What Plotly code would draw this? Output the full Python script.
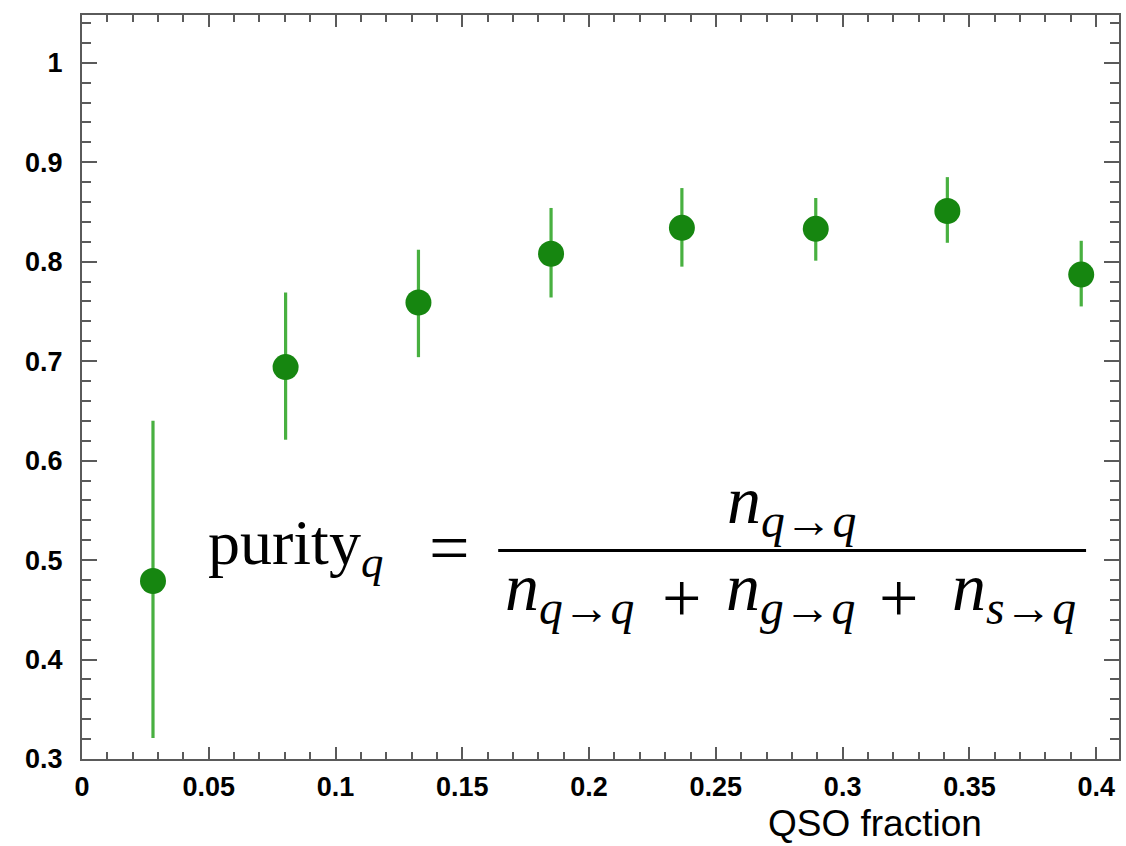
import plotly.graph_objects as go

# QSO fraction bins and measured purity with asymmetric uncertainties
qso_fraction = [0.0280, 0.0803, 0.1327, 0.1850, 0.2366, 0.2894, 0.3413, 0.3941]
purity = [0.479, 0.694, 0.759, 0.808, 0.834, 0.833, 0.851, 0.787]
err_up = [0.161, 0.075, 0.053, 0.046, 0.040, 0.031, 0.034, 0.034]
err_down = [0.158, 0.073, 0.055, 0.044, 0.039, 0.032, 0.032, 0.032]

x_ticks = [0, 0.05, 0.1, 0.15, 0.2, 0.25, 0.3, 0.35, 0.4]
x_ticktext = ["0", "0.05", "0.1", "0.15", "0.2", "0.25", "0.3", "0.35", "0.4"]
y_ticks = [0.3, 0.4, 0.5, 0.6, 0.7, 0.8, 0.9, 1.0]
y_ticktext = ["0.3", "0.4", "0.5", "0.6", "0.7", "0.8", "0.9", "1"]

W, H = 1126, 846
L, R, T, B = 82, 5, 15, 87
PW, PH = W - L - R, H - T - B


def px(x):
    return (x - L) / PW


def py(y):
    return (H - B - y) / PH


fig = go.Figure()
fig.add_trace(go.Scatter(
    x=qso_fraction, y=purity, mode="markers",
    marker=dict(size=26, color="rgb(22,134,16)", line=dict(width=0)),
    error_y=dict(type="data", symmetric=False, array=err_up, arrayminus=err_down,
                 color="rgb(72,176,64)", thickness=3.2, width=0),
    showlegend=False,
))

axis_common = dict(
    showline=True, linecolor="rgb(90,90,90)", linewidth=2, mirror="ticks",
    ticks="inside", tickcolor="rgb(90,90,90)", tickwidth=2,
    showgrid=False, zeroline=False,
    tickfont=dict(family="Liberation Sans", size=27, color="black", weight="bold"),
)

fig.update_xaxes(
    range=[0, 0.409], tickvals=x_ticks, ticktext=x_ticktext, ticklen=12,
    minor=dict(dtick=0.01, tick0=0, ticklen=7, ticks="inside",
               tickcolor="rgb(90,90,90)", tickwidth=2),
    ticklabelstandoff=3,
    **axis_common,
)
fig.update_yaxes(
    range=[0.3, 1.048], tickvals=y_ticks, ticktext=y_ticktext, ticklen=15,
    minor=dict(dtick=0.02, tick0=0.3, ticklen=9, ticks="inside",
               tickcolor="rgb(90,90,90)", tickwidth=2),
    ticklabelstandoff=12,
    **axis_common,
)

# Axis title sits in the lower-right corner, under the tick labels
fig.add_annotation(xref="paper", yref="paper", x=px(986), y=py(846),
                   xanchor="right", yanchor="bottom", showarrow=False,
                   text="QSO fraction",
                   font=dict(family="Liberation Sans", size=37, color="black"))

# Purity definition written as a stacked fraction
serif = "Liberation Serif"


def label(x, y, text, size, anchor="center"):
    fig.add_annotation(xref="paper", yref="paper", x=px(x), y=py(y),
                       xanchor=anchor, yanchor="middle", showarrow=False,
                       text=text, font=dict(family=serif, size=size, color="black"))


def n_term(a, b):
    return f"<i>n</i><sub><i>{a}</i>→<i>{b}</i></sub>"


label(206, 547, "purity<sub><i>q</i></sub>", 64, anchor="left")
label(450, 548, "=", 72)
label(793, 504, n_term("q", "q"), 68)
label(570, 591, n_term("q", "q"), 68)
label(683, 598, "+", 70)
label(792, 591, n_term("g", "q"), 68)
label(900, 598, "+", 70)
label(1016, 591, n_term("s", "q"), 68)
fig.add_shape(type="line", xref="paper", yref="paper",
              x0=px(499), x1=px(1088), y0=py(550.5), y1=py(550.5),
              line=dict(color="black", width=3))

fig.update_layout(
    width=W, height=H,
    margin=dict(l=L, r=R, t=T, b=B),
    paper_bgcolor="white", plot_bgcolor="white",
)

fig.write_html("out.html")
